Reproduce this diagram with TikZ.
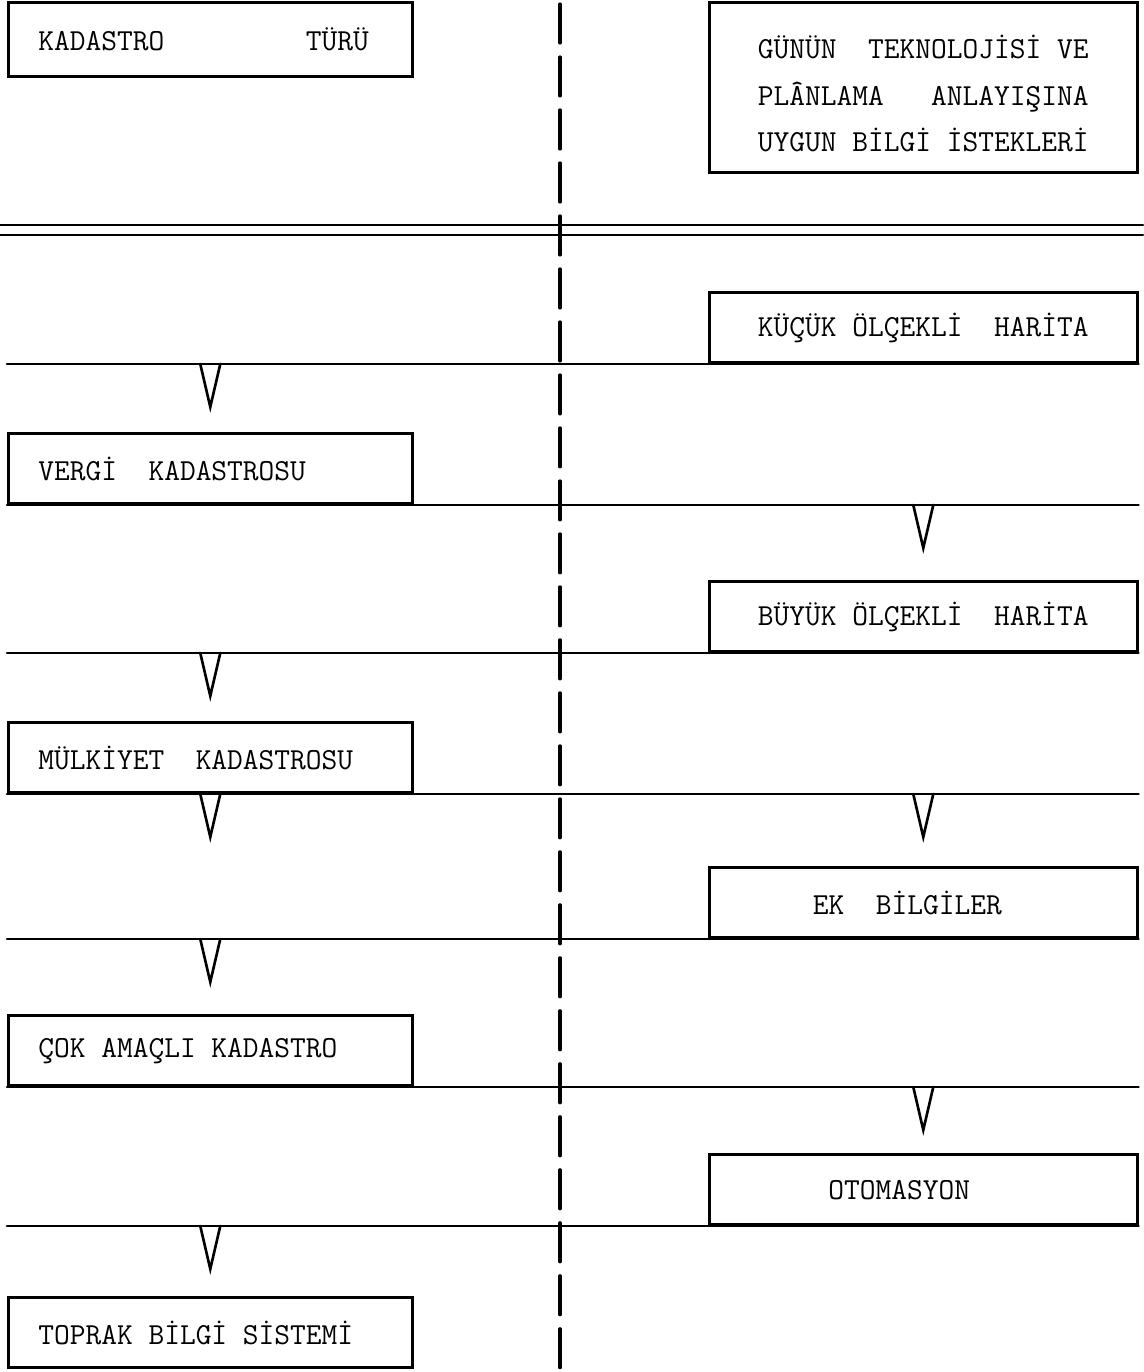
\documentclass[tikz,border=0pt]{standalone}
\usepackage{fontspec}
\usepackage{tikz}

\begin{document}
\begin{tikzpicture}[x=0.02cm,y=-0.02cm,line cap=round,
  font=\ttfamily\fontsize{17.4}{26.6}\selectfont,
  cizgi/.style={line width=1.5pt},
  solkutu/.style={draw,cizgi,anchor=south west,minimum width=8.08cm,minimum height=1.4cm,
    text width=6.88cm,inner xsep=0.6cm,align=flush left},
  sagkutu/.style={draw,cizgi,anchor=south west,minimum width=8.56cm,minimum height=1.4cm,align=left}]
\useasboundingbox (0,0) rectangle (1143,1372);
\node[solkutu,minimum height=1.48cm] (tur) at (7,78) {KADASTRO~~~~~~~~~TÜRÜ};
\node[sagkutu,minimum height=3.4cm] (gunun) at (708,174) {\rule{0pt}{20pt}GÜNÜN~ TEKNOLOJİSİ VE\\PLÂNLAMA~~ ANLAYIŞINA\\UYGUN BİLGİ İSTEKLERİ};
\node[sagkutu] (kucuk) at (708,364) {KÜÇÜK ÖLÇEKLİ~ HARİTA};
\node[solkutu] (vergi) at (7,505) {VERGİ~ KADASTROSU};
\node[sagkutu] (buyuk) at (708,653) {BÜYÜK ÖLÇEKLİ~ HARİTA};
\node[solkutu] (mulkiyet) at (7,794) {MÜLKİYET~ KADASTROSU};
\node[sagkutu] (ek) at (708,939) {EK~ BİLGİLER\hspace*{0.64cm}};
\node[solkutu] (cok) at (7,1087) {ÇOK AMAÇLI KADASTRO};
\node[sagkutu] (otomasyon) at (708,1226) {OTOMASYON\hspace*{0.96cm}};
\node[solkutu] (toprak) at (7,1369) {TOPRAK BİLGİ SİSTEMİ};
\draw[cizgi] (0,225) -- (1143,225) (0,235) -- (1143,235);
\draw[cizgi] (tur.west |- kucuk.south) -- (kucuk.south east);
\draw[cizgi] (vergi.south west) -- (vergi.south -| kucuk.east);
\draw[cizgi] (tur.west |- buyuk.south) -- (buyuk.south east);
\draw[cizgi] (mulkiyet.south west) -- (mulkiyet.south -| kucuk.east);
\draw[cizgi] (tur.west |- ek.south) -- (ek.south east);
\draw[cizgi] (cok.south west) -- (cok.south -| kucuk.east);
\draw[cizgi] (tur.west |- otomasyon.south) -- (otomasyon.south east);
\foreach \a/\b in {vergi/kucuk,vergi/buyuk,vergi/mulkiyet,vergi/ek,vergi/otomasyon,
  kucuk/vergi,kucuk/mulkiyet,kucuk/cok}
  \draw[cizgi,line join=miter] (\b.south -| \a.center) ++(-10,0) -- ++(10,43) -- ++(10,-43);
\coordinate (ust) at (560,4);
\coordinate (alt) at (560,1372);
\draw[line width=1.8pt,dash pattern=on 0.78cm off 0.28cm] (ust) -- (alt);
\end{tikzpicture}
\end{document}
